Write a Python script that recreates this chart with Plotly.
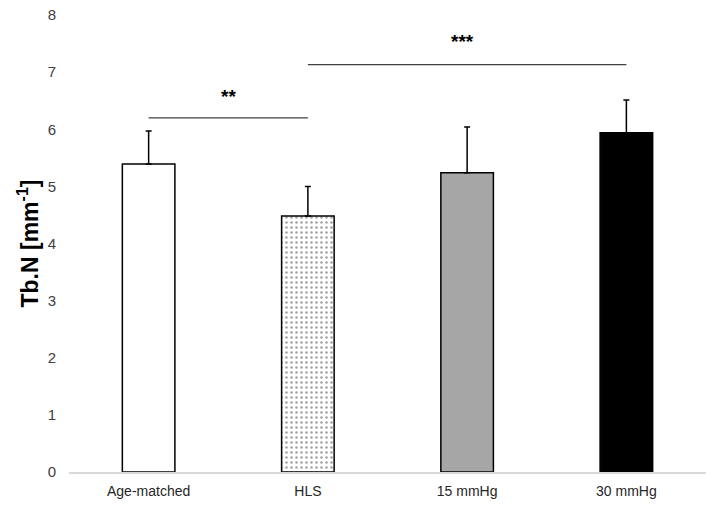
import plotly.graph_objects as go

categories = ["Age-matched", "HLS", "15 mmHg", "30 mmHg"]
means = [5.39, 4.48, 5.24, 5.94]
sd_upper = [0.58, 0.52, 0.80, 0.57]
fills = ["white", "white", "#a6a6a6", "black"]
patterns = ["", ".", "", ""]

sig_pairs = [("Age-matched", "HLS", 6.2, "**", 6.58, 0.0), ("HLS", "30 mmHg", 7.13, "***", 7.53, -0.03)]

fig = go.Figure()
fig.add_trace(go.Bar(
    x=categories, y=means, width=0.33,
    marker=dict(color=fills, line=dict(color="black", width=1.5),
                pattern=dict(shape=patterns, fgcolor="#777777", size=5, solidity=0.2)),
    error_y=dict(type="data", array=sd_upper, arrayminus=[0]*4, symmetric=False,
                 color="black", thickness=1.5, width=3),
    showlegend=False,
))

idx = {c: i for i, c in enumerate(categories)}
for a, b, yl, txt, yt, dx in sig_pairs:
    fig.add_shape(type="line", xref="x", yref="y", x0=idx[a], x1=idx[b], y0=yl, y1=yl,
                  line=dict(color="#404040", width=1.2))
    fig.add_annotation(x=(idx[a] + idx[b]) / 2 + dx, y=yt, text="<b>" + txt + "</b>", showarrow=False,
                       xref="x", yref="y",
                       font=dict(size=19, color="black", family="Liberation Sans"))

fig.update_layout(
    width=714, height=510, margin=dict(l=69, r=8, t=15, b=38),
    plot_bgcolor="white", paper_bgcolor="white",
    font=dict(family="Liberation Sans", size=14, color="#404040"),
)
fig.update_xaxes(type="category", showline=True, linecolor="#d9d9d9", linewidth=1.5,
                 showgrid=False, ticks="", tickfont=dict(size=14, color="#262626"),
                 ticklabelstandoff=5, range=[-0.5, 3.5], automargin=False)
fig.update_yaxes(range=[0, 8], dtick=1, showgrid=False, zeroline=False, showline=False,
                 ticks="", ticklabelstandoff=12, tickfont=dict(size=15, color="#404040"),
                 automargin=False,
                 title=dict(text="<b>Tb.N [mm<sup>-1</sup>]</b>", font=dict(size=23, color="black"),
                            standoff=2))
fig.write_html("out.html", config={"displayModeBar": False},
               post_script="document.body.style.margin='0';document.body.style.overflow='hidden';")
